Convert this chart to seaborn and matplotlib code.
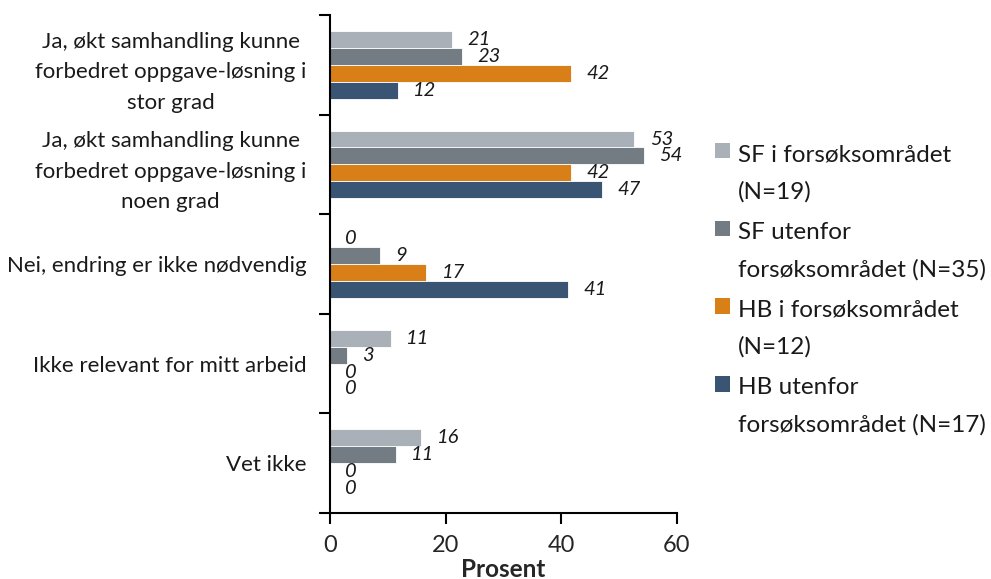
import matplotlib
matplotlib.use('Agg')
import matplotlib.pyplot as plt
import seaborn as sns
import pandas as pd
import numpy as np
from matplotlib.patches import Patch, Rectangle
from matplotlib.legend_handler import HandlerPatch

# data (prosent)
categories = [
    'Ja, økt samhandling kunne\nforbedret oppgave-løsning i\nstor grad',
    'Ja, økt samhandling kunne\nforbedret oppgave-løsning i\nnoen grad',
    'Nei, endring er ikke nødvendig',
    'Ikke relevant for mitt arbeid',
    'Vet ikke',
]
groups = [
    'SF i forsøksområdet\n(N=19)',
    'SF utenfor\nforsøksområdet (N=35)',
    'HB i forsøksområdet\n(N=12)',
    'HB utenfor\nforsøksområdet (N=17)',
]
sf_i = [21.05, 52.63, 0.0, 10.53, 15.79]
sf_utenfor = [22.86, 54.29, 8.57, 2.86, 11.43]
hb_i = [41.67, 41.67, 16.67, 0.0, 0.0]
hb_utenfor = [11.76, 47.06, 41.18, 0.0, 0.0]
x_ticks = [0, 20, 40, 60]

colors = ['#aab0b7', '#737b83', '#d97f18', '#3a5573']

df = pd.DataFrame({
    'Kategori': categories * 4,
    'Gruppe': np.repeat(groups, len(categories)),
    'Prosent': sf_i + sf_utenfor + hb_i + hb_utenfor,
})

sns.set_theme(style='ticks')
plt.rcParams['font.family'] = ['Lato', 'DejaVu Sans']

fig = plt.figure(figsize=(9.91, 5.79), dpi=100)
ax = fig.add_axes([330 / 991, 1 - 513 / 579, 347 / 991, 498 / 579])

sns.barplot(data=df, y='Kategori', x='Prosent', hue='Gruppe', palette=colors,
            orient='h', width=0.68, errorbar=None, saturation=1, edgecolor='white',
            linewidth=0.6, ax=ax, legend=False)

# verdietiketter
for cont in ax.containers:
    ax.bar_label(cont, fmt='%.0f', padding=11, fontsize=14.5, fontstyle='italic',
                 color='#1a1a1a')

ax.set_xlim(0, 60)
ax.set_ylim(4.5, -0.5)
ax.set_xticks(x_ticks)
ax.set_yticks(np.arange(-0.5, len(categories)), minor=True)
ax.set_ylabel('')
ax.set_xlabel('Prosent', fontsize=17.5, fontweight='bold', labelpad=1)

ax.tick_params(axis='y', which='major', length=0, pad=17, labelsize=16)
ax.tick_params(axis='y', which='minor', length=8, width=1.5, color='black', left=True)
ax.tick_params(axis='x', which='major', length=8, width=1.5, color='black',
               labelsize=17, pad=8)
for lab in ax.get_yticklabels():
    lab.set_multialignment('center')
    lab.set_linespacing(1.66)
    lab.set_color('#1a1a1a')

for side in ['left', 'bottom']:
    ax.spines[side].set_linewidth(1.5)
    ax.spines[side].set_color('black')
sns.despine(ax=ax)


# legend: firkant på første linje
def top_square(legend, orig_handle, xdescent, ydescent, width, height, fontsize):
    return Rectangle((-xdescent, -ydescent + fontsize * 0.93), width, height)


handles = [Patch(facecolor=c, edgecolor='none') for c in colors]
leg = fig.legend(handles, groups, loc='upper left', bbox_to_anchor=(703 / 991, 1 - 132 / 579),
                 frameon=False, fontsize=17.5, handlelength=0.6, handleheight=0.6,
                 handletextpad=0.35, labelspacing=0.8, borderpad=0,
                 handler_map={Patch: HandlerPatch(patch_func=top_square)})
for t in leg.get_texts():
    t.set_linespacing(1.9)
    t.set_color('#1a1a1a')

fig.savefig('out.png', dpi=100)
